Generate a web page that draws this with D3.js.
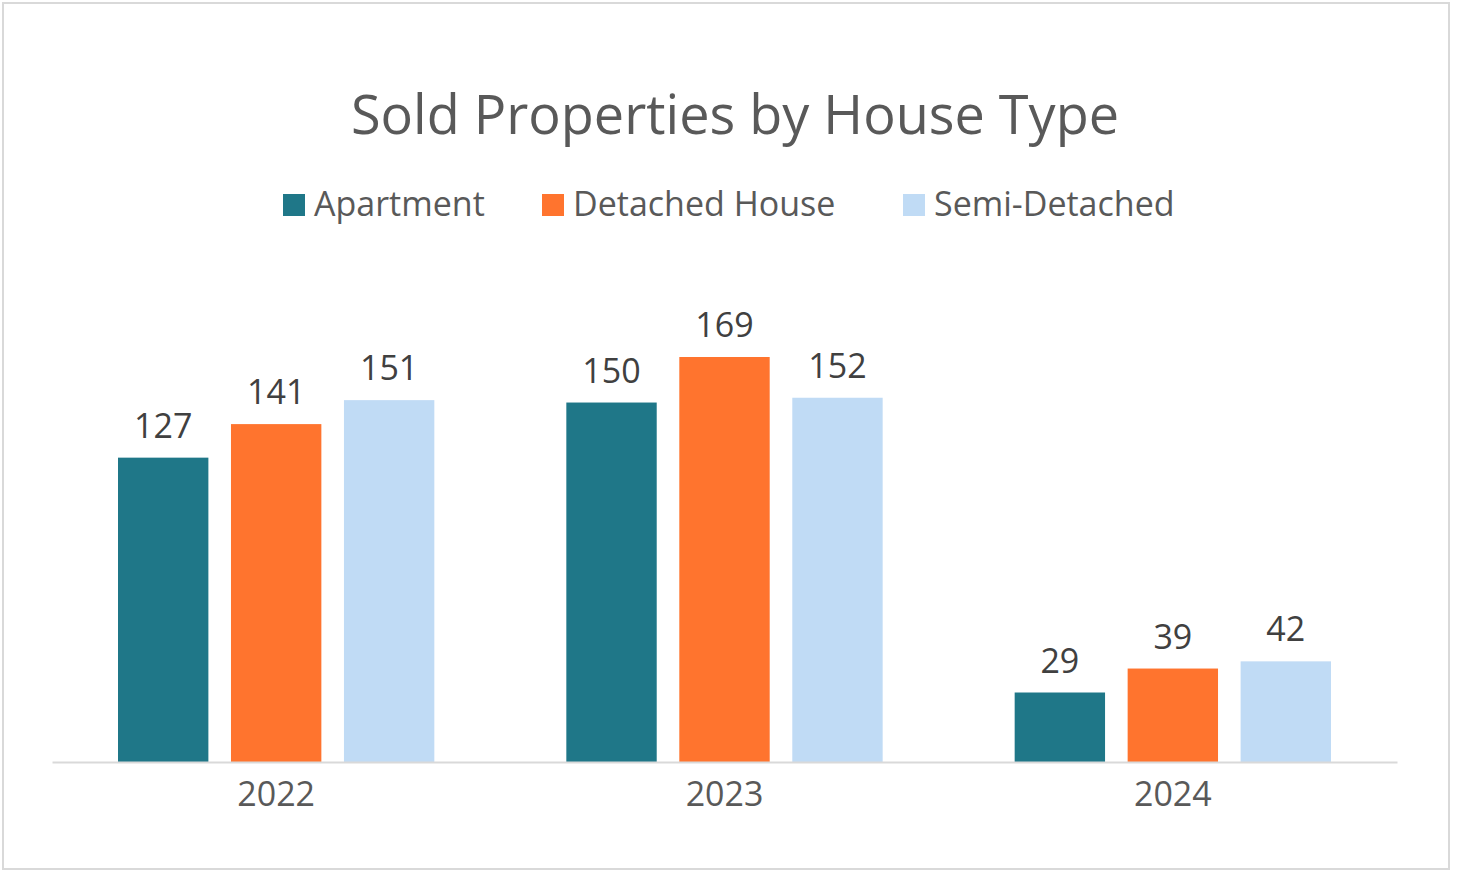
<!DOCTYPE html>
<html><head><meta charset="utf-8">
<script src="https://cdn.jsdelivr.net/npm/d3@7"></script>
<style>body{margin:0;background:#fff}text{font-family:"Open Sans","Noto Sans",sans-serif}</style>
</head><body><div id="chart"></div>
<script>
const years = ["2022", "2023", "2024"];
const seriesNames = ["Apartment", "Detached House", "Semi-Detached"];
const apartment = [127, 150, 29];
const detached = [141, 169, 39];
const semi = [151, 152, 42];
const colors = ["#1f7788", "#ff742e", "#c0dbf5"];

const W = 1457, H = 875;
const svg = d3.select("#chart").append("svg").attr("width", W).attr("height", H);
svg.append("rect").attr("x", 3).attr("y", 3).attr("width", 1446).attr("height", 866)
  .attr("fill", "#fff").attr("stroke", "#d9d9d9").attr("stroke-width", 2);

svg.append("text").attr("x", 735).attr("y", 134).attr("text-anchor", "middle")
  .attr("font-size", 54).attr("fill", "#595959").text("Sold Properties by House Type");

// legend
const legendX = [283, 542, 903];
seriesNames.forEach((name, i) => {
  const g = svg.append("g").attr("transform", `translate(${legendX[i]},194)`);
  g.append("rect").attr("width", 22).attr("height", 22).attr("fill", colors[i]);
  g.append("text").attr("x", 31).attr("y", 22).attr("font-size", 34).attr("fill", "#595959").text(name);
});

const data = years.map((y, i) => ({ year: y, values: [apartment[i], detached[i], semi[i]] }));
const baseY = 762;
const x0 = d3.scaleBand().domain(years).range([52, 1397]);
const x1 = d3.scaleBand().domain(seriesNames).range([66, x0.bandwidth() - 66]).paddingInner(0.2);
const y = d3.scaleLinear().domain([0, 169]).range([baseY, baseY - 405]);

const groups = svg.selectAll(".grp").data(data).join("g")
  .attr("transform", d => `translate(${x0(d.year)},0)`);
groups.selectAll("rect").data(d => d.values.map((v, i) => ({ v, i }))).join("rect")
  .attr("x", d => x1(seriesNames[d.i])).attr("width", x1.bandwidth())
  .attr("y", d => y(d.v)).attr("height", d => baseY - y(d.v)).attr("fill", d => colors[d.i]);
groups.selectAll(".lbl").data(d => d.values.map((v, i) => ({ v, i }))).join("text")
  .attr("x", d => x1(seriesNames[d.i]) + x1.bandwidth() / 2).attr("y", d => y(d.v) - 20)
  .attr("text-anchor", "middle").attr("font-size", 34).attr("fill", "#404040").text(d => d.v);

const xAxis = svg.append("g").attr("transform", `translate(0,${baseY})`)
  .call(d3.axisBottom(x0).tickSize(0).tickPadding(20));
xAxis.select(".domain").attr("stroke", "#d9d9d9").attr("stroke-width", 2);
xAxis.selectAll("text").attr("font-size", 34).attr("fill", "#595959")
  .style("font-family", '"Open Sans","Noto Sans",sans-serif').attr("dy", "0.71em");
</script></body></html>
